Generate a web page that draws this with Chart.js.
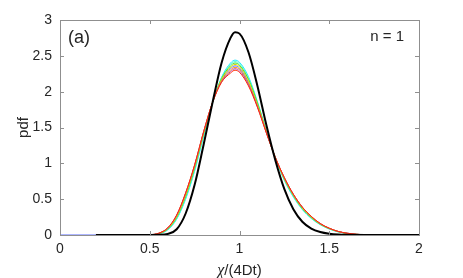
<!DOCTYPE html>
<html>
<head>
<meta charset="utf-8">
<script src="https://cdn.jsdelivr.net/npm/chart.js@4/dist/chart.umd.min.js"></script>
<style>
  html, body { margin: 0; padding: 0; background: #fff; }
  #wrap { width: 463px; height: 278px; }
</style>
</head>
<body>
<div id="wrap"><canvas id="pdfchart" width="463" height="278"></canvas></div>
<script>
// axis ticks
const xTicks = [0, 0.5, 1, 1.5, 2];
const yTicks = [0, 0.5, 1, 1.5, 2, 2.5, 3];

// black reference curve
const blackX = [0.2, 0.5, 0.55, 0.6, 0.65, 0.7, 0.75, 0.8, 0.85, 0.9, 0.95, 0.975, 1.0, 1.05, 1.1, 1.15, 1.2, 1.25, 1.3, 1.35, 1.4, 1.45, 1.5, 1.55, 1.6, 1.7, 2.0];
const blackY = [0, 0, 0.002, 0.015, 0.08, 0.30, 0.70, 1.26, 1.85, 2.40, 2.75, 2.83, 2.81, 2.55, 2.08, 1.53, 1.04, 0.64, 0.36, 0.185, 0.09, 0.042, 0.018, 0.006, 0.002, 0, 0];

// coloured curves, shared x grid (null = not drawn there)
const colorX = [0, 0.45, 0.5, 0.55, 0.6, 0.65, 0.7, 0.75, 0.8, 0.85, 0.9, 0.95, 0.975, 1.0, 1.05, 1.1, 1.15, 1.2, 1.25, 1.3, 1.35, 1.4, 1.45, 1.5, 1.55, 1.6, 1.65, 1.7, 1.8, 2.0];
const cyanY   = [null, 0, 0.001, 0.015, 0.07, 0.22, 0.50, 0.89, 1.37, 1.84, 2.20, 2.40, 2.44, 2.41, 2.21, 1.86, 1.45, 1.07, 0.76, 0.53, 0.355, 0.23, 0.143, 0.083, 0.043, 0.02, 0.008, 0.002, 0, 0];
const aquaY   = [null, 0, 0.0015, 0.017, 0.077, 0.232, 0.52, 0.91, 1.39, 1.85, 2.19, 2.38, 2.42, 2.39, 2.19, 1.85, 1.45, 1.075, 0.77, 0.54, 0.362, 0.236, 0.147, 0.086, 0.045, 0.021, 0.008, 0.002, 0, 0];
const greenY  = [null, 0, 0.002, 0.019, 0.083, 0.245, 0.54, 0.935, 1.41, 1.85, 2.18, 2.36, 2.40, 2.37, 2.17, 1.84, 1.44, 1.078, 0.78, 0.55, 0.37, 0.243, 0.15, 0.089, 0.047, 0.022, 0.009, 0.003, 0, 0];
const yellowY = [null, 0, 0.002, 0.021, 0.088, 0.255, 0.555, 0.95, 1.42, 1.85, 2.17, 2.34, 2.38, 2.35, 2.15, 1.82, 1.44, 1.08, 0.785, 0.555, 0.377, 0.248, 0.153, 0.091, 0.048, 0.023, 0.009, 0.003, 0, 0];
const blueY   = [0, 0, 0.002, 0.022, 0.092, 0.265, 0.568, 0.962, 1.43, 1.852, 2.16, 2.32, 2.36, 2.33, 2.13, 1.81, 1.43, 1.08, 0.79, 0.56, 0.382, 0.252, 0.155, 0.092, 0.048, 0.024, 0.01, 0.003, 0, 0];
const orangeY = [null, 0, 0.003, 0.024, 0.096, 0.272, 0.58, 0.972, 1.437, 1.853, 2.15, 2.30, 2.34, 2.31, 2.11, 1.80, 1.43, 1.08, 0.797, 0.567, 0.387, 0.257, 0.158, 0.094, 0.049, 0.024, 0.01, 0.003, 0, 0];
const purpleY = [null, 0, 0.003, 0.024, 0.098, 0.276, 0.585, 0.975, 1.44, 1.852, 2.14, 2.28, 2.32, 2.29, 2.10, 1.79, 1.425, 1.08, 0.8, 0.568, 0.389, 0.258, 0.159, 0.094, 0.05, 0.025, 0.01, 0.003, 0, 0];
const redY    = [null, 0, 0.003, 0.025, 0.10, 0.28, 0.59, 0.98, 1.44, 1.85, 2.13, 2.26, 2.30, 2.27, 2.08, 1.78, 1.42, 1.08, 0.80, 0.57, 0.39, 0.26, 0.16, 0.095, 0.05, 0.025, 0.01, 0.003, 0, 0];

const pts = (xs, ys) => xs.map((x, i) => ({ x: x, y: ys[i] }));

const line = (xs, ys, color, width) => ({
  data: pts(xs, ys),
  borderColor: color,
  borderWidth: width,
  pointRadius: 0,
  fill: false,
  spanGaps: false,
  cubicInterpolationMode: "monotone",
});

const textColor = "#262626";
const boxColor = "#8f8f8f";

// box, inward ticks and labels like the matlab figure
const framePlugin = {
  id: "frame",
  afterDraw(chart) {
    const { ctx, chartArea: a, scales } = chart;
    const sx = scales.x, sy = scales.y;
    ctx.save();
    ctx.strokeStyle = boxColor;
    ctx.lineWidth = 1;
    ctx.strokeRect(a.left + 0.5, a.top + 0.5, a.right - a.left, a.bottom - a.top);
    ctx.beginPath();
    xTicks.forEach((t) => {
      const px = Math.round(sx.getPixelForValue(t)) + 0.5;
      ctx.moveTo(px, a.bottom); ctx.lineTo(px, a.bottom - 4);
      ctx.moveTo(px, a.top); ctx.lineTo(px, a.top + 4);
    });
    yTicks.forEach((t) => {
      const py = Math.round(sy.getPixelForValue(t)) + 0.5;
      ctx.moveTo(a.left, py); ctx.lineTo(a.left + 4, py);
      ctx.moveTo(a.right, py); ctx.lineTo(a.right - 4, py);
    });
    ctx.stroke();

    ctx.fillStyle = textColor;
    // x title with italic chi
    ctx.textBaseline = "alphabetic";
    ctx.font = "italic 16px 'Liberation Serif'";
    const chi = "\u03c7";
    const rest = "/(4Dt)";
    const wChi = ctx.measureText(chi).width;
    ctx.font = "15px 'Liberation Sans'";
    const wRest = ctx.measureText(rest).width;
    const x0 = (a.left + a.right) / 2 - (wChi + wRest) / 2;
    ctx.font = "italic 16px 'Liberation Serif'";
    ctx.textAlign = "left";
    ctx.fillText(chi, x0, 275);
    ctx.font = "15px 'Liberation Sans'";
    ctx.fillText(rest, x0 + wChi, 275);

    // y title
    ctx.save();
    ctx.translate(28, (a.top + a.bottom) / 2);
    ctx.rotate(-Math.PI / 2);
    ctx.textAlign = "center";
    ctx.font = "15px 'Liberation Sans'";
    ctx.fillText("pdf", 0, 0);
    ctx.restore();

    // panel labels
    ctx.textAlign = "left";
    ctx.font = "18px 'Liberation Sans'";
    ctx.fillText("(a)", 68, 43);
    ctx.textAlign = "right";
    ctx.font = "15px 'Liberation Sans'";
    ctx.fillText("n = 1", 404, 41);
    ctx.restore();
  },
};

// dataset 0 is painted last, so black goes first and red next
new Chart("pdfchart", {
  type: "line",
  data: {
    datasets: [
      line(blackX, blackY, "#000000", 2),
      line(colorX, redY, "#ff2a00", 1),
      line(colorX, purpleY, "#b040c0", 1),
      line(colorX, orangeY, "#ff9a00", 1),
      line(colorX, yellowY, "#e6d800", 1),
      line(colorX, greenY, "#33dd33", 1),
      line(colorX, aquaY, "#55ffcc", 1),
      line(colorX, cyanY, "#22e6ff", 1),
      line(colorX, blueY, "#5a6cff", 1),
    ],
  },
  options: {
    responsive: false,
    animation: false,
    layout: { padding: { left: 0, right: 44, top: 20, bottom: 0 } },
    plugins: { legend: { display: false }, tooltip: { enabled: false } },
    scales: {
      x: {
        type: "linear",
        min: 0,
        max: 2,
        grid: { display: false, drawTicks: false },
        border: { display: false },
        afterBuildTicks: (s) => { s.ticks = xTicks.map((v) => ({ value: v })); },
        afterFit: (s) => { s.height = 43; },
        ticks: {
          color: textColor,
          font: { family: "'Liberation Sans'", size: 14 },
          padding: 6,
          maxRotation: 0,
          callback: (v) => String(v),
        },
      },
      y: {
        min: 0,
        max: 3,
        grid: { display: false, drawTicks: false },
        border: { display: false },
        afterBuildTicks: (s) => { s.ticks = yTicks.map((v) => ({ value: v })); },
        afterFit: (s) => { s.width = 60; },
        ticks: {
          color: textColor,
          font: { family: "'Liberation Sans'", size: 14 },
          padding: 8,
          callback: (v) => String(v),
        },
      },
    },
  },
  plugins: [framePlugin],
});
</script>
</body>
</html>
